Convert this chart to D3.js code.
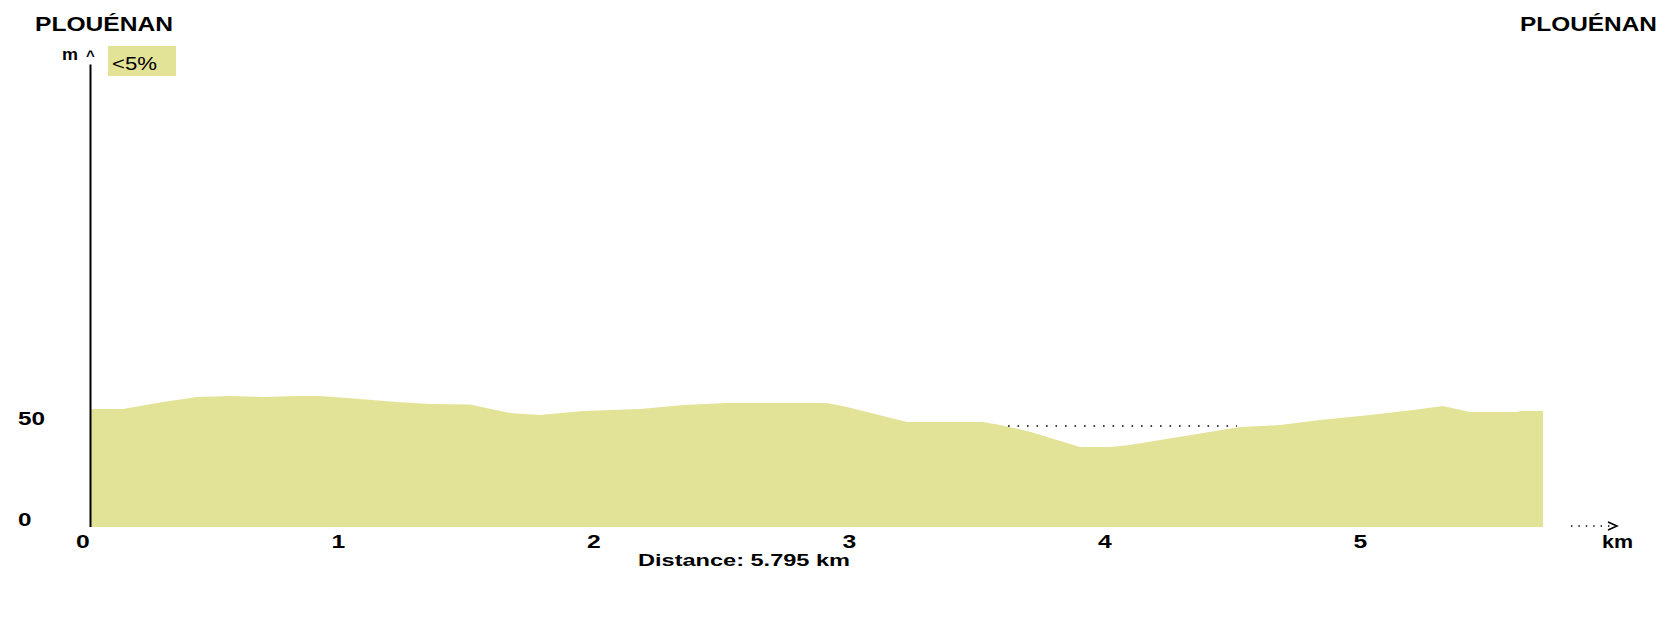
<!DOCTYPE html>
<html>
<head>
<meta charset="utf-8">
<script src="https://cdn.jsdelivr.net/npm/d3@7"></script>
<style>
  html, body { margin: 0; padding: 0; background: #fff; }
  svg text { font-family: "Liberation Sans", Arial, sans-serif; fill: #000; }
</style>
</head>
<body>
<svg id="chart" width="1680" height="631"></svg>
<script>
// ---- data ----
const distanceKm = [0, 0.129, 0.286, 0.419, 0.548, 0.677, 0.810, 0.900, 1.006, 1.202, 1.331, 1.487, 1.644, 1.761, 1.930, 2.153, 2.321, 2.493, 2.885, 2.963, 3.198, 3.495, 3.562, 3.679, 3.785, 3.875, 3.992, 4.070, 4.188, 4.333, 4.501, 4.658, 4.814, 5.010, 5.178, 5.295, 5.401, 5.585, 5.597, 5.687];
const elevationM = [58.4, 58.4, 61.9, 64.4, 64.9, 64.4, 64.9, 64.9, 63.9, 61.9, 60.9, 60.6, 56.4, 55.4, 57.4, 58.4, 60.4, 61.4, 61.4, 59.4, 52.0, 52.0, 50.5, 47.2, 43.1, 39.6, 39.6, 40.6, 43.1, 46.0, 49.5, 50.5, 53.0, 55.4, 57.9, 59.9, 56.9, 56.9, 57.4, 57.4];
const xTicks = [0, 1, 2, 3, 4, 5];
const yTicks = [0, 50];
const startName = "PLOUÉNAN";
const endName = "PLOUÉNAN";
const legendLabel = "<5%";
const totalDistanceLabel = "Distance: 5.795 km";
const refLine = { from: 3.593, to: 4.489, elevation: 50 };

// ---- layout ----
const fillColor = "#e3e398";
const svg = d3.select("#chart");
const x = d3.scaleLinear().domain([0, 1]).range([90, 345.5]);
const y = d3.scaleLinear().domain([0, 50]).range([527, 426]);

function stretch(sel, w) {
  sel.each(function () {
    const t = d3.select(this);
    const target = typeof w === "function" ? w(this) : w;
    t.attr("textLength", target).attr("lengthAdjust", "spacingAndGlyphs");
  });
  return sel;
}
const factor = (f) => (node) => node.getComputedTextLength() * f;

// profile area
const pts = distanceKm.map((d, i) => [d, elevationM[i]]);
svg.append("path")
  .datum(pts)
  .attr("fill", fillColor)
  .attr("d", d3.area().x(d => x(d[0])).y0(y(0)).y1(d => y(d[1])));

// dotted reference line
svg.append("line")
  .attr("x1", x(refLine.from)).attr("x2", x(refLine.to))
  .attr("y1", y(refLine.elevation)).attr("y2", y(refLine.elevation))
  .attr("stroke", "#000").attr("stroke-width", 1.6)
  .attr("stroke-dasharray", "1.6,7.9");

// y axis line
svg.append("line")
  .attr("x1", 90.5).attr("x2", 90.5)
  .attr("y1", y(0)).attr("y2", y(229))
  .attr("stroke", "#000").attr("stroke-width", 2);

svg.append("text").attr("x", 62).attr("y", 60)
  .attr("font-size", 17).attr("font-weight", "bold").text("m")
  .call(stretch, 16);
svg.append("text").attr("x", 86).attr("y", 61)
  .attr("font-size", 15).attr("font-weight", "bold").text("^");

// y tick labels
svg.selectAll(".ylab").data(yTicks).enter().append("text")
  .attr("class", "ylab")
  .attr("x", 18).attr("y", d => y(d) - 1)
  .attr("font-size", 18).attr("font-weight", "bold")
  .text(d => d)
  .call(stretch, factor(1.35));

// x tick labels
svg.selectAll(".xlab").data(xTicks).enter().append("text")
  .attr("class", "xlab")
  .attr("x", d => x(d) - 7).attr("y", 548)
  .attr("text-anchor", "middle")
  .attr("font-size", 19).attr("font-weight", "bold")
  .text(d => d)
  .call(stretch, factor(1.3));

// km arrow
svg.append("line")
  .attr("x1", 1571).attr("x2", 1610).attr("y1", 526).attr("y2", 526)
  .attr("stroke", "#000").attr("stroke-width", 1.4).attr("stroke-dasharray", "1.4,6");
svg.append("path")
  .attr("d", "M1608,522 L1617,526 L1608,530")
  .attr("fill", "none").attr("stroke", "#000").attr("stroke-width", 1.5);
svg.append("text").attr("x", 1602).attr("y", 548)
  .attr("font-size", 19).attr("font-weight", "bold").text("km")
  .call(stretch, 31);

// total distance
svg.append("text").attr("x", 638).attr("y", 566)
  .attr("font-size", 17).attr("font-weight", "bold").text(totalDistanceLabel)
  .call(stretch, 212);

// titles
svg.append("text").attr("x", 35).attr("y", 31)
  .attr("font-size", 20).attr("font-weight", "bold").text(startName)
  .call(stretch, 138);
svg.append("text").attr("x", 1520).attr("y", 31)
  .attr("font-size", 20).attr("font-weight", "bold").text(endName)
  .call(stretch, 137);

// legend
svg.append("rect").attr("x", 108).attr("y", 46).attr("width", 68).attr("height", 30)
  .attr("fill", fillColor);
svg.append("text").attr("x", 112).attr("y", 70)
  .attr("font-size", 19).text(legendLabel)
  .call(stretch, 45);
</script>
</body>
</html>
